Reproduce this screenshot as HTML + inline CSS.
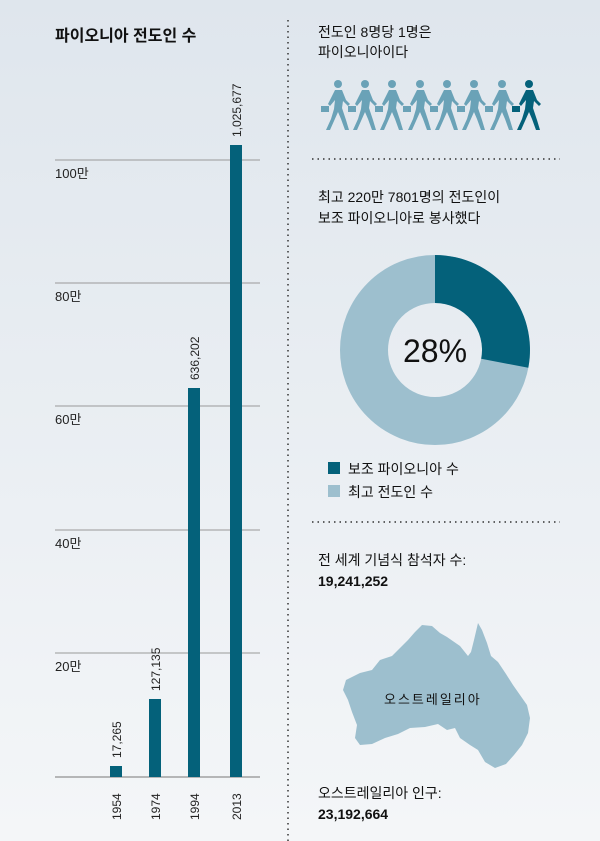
<!DOCTYPE html>
<html><head><meta charset="utf-8"><style>
body{margin:0;width:600px;height:841px;overflow:hidden;background:linear-gradient(#dfe6ed,#f4f6f8);font-family:"Liberation Sans","Noto Sans CJK KR",sans-serif;color:#111}
.t{position:absolute;white-space:nowrap}
</style></head><body>
<svg width="600" height="841" style="position:absolute;left:0;top:0" font-family="Liberation Sans, Noto Sans CJK KR, sans-serif">
<g stroke="#999" stroke-width="1">
<line x1="55" y1="160" x2="260" y2="160"/><line x1="55" y1="283" x2="260" y2="283"/>
<line x1="55" y1="406" x2="260" y2="406"/><line x1="55" y1="530" x2="260" y2="530"/>
<line x1="55" y1="653" x2="260" y2="653"/><line x1="55" y1="777" x2="260" y2="777" stroke="#777"/>
</g>
<g font-size="13" fill="#222">
<text x="55" y="178">100만</text><text x="55" y="301">80만</text><text x="55" y="424">60만</text>
<text x="55" y="548">40만</text><text x="55" y="671">20만</text>
</g>
<g fill="#04617a">
<rect x="110" y="766" width="12" height="11"/><rect x="149" y="699" width="12" height="78"/>
<rect x="188" y="388" width="12" height="389"/><rect x="230" y="145" width="12" height="632"/>
</g>
<g font-size="12" fill="#222">
<text transform="translate(121,758) rotate(-90)">17,265</text>
<text transform="translate(160,691) rotate(-90)">127,135</text>
<text transform="translate(199,380) rotate(-90)">636,202</text>
<text transform="translate(241,137) rotate(-90)">1,025,677</text>
<text transform="translate(121,820) rotate(-90)">1954</text>
<text transform="translate(160,820) rotate(-90)">1974</text>
<text transform="translate(199,820) rotate(-90)">1994</text>
<text transform="translate(241,820) rotate(-90)">2013</text>
</g>
<g stroke="#333" stroke-width="1.5" stroke-dasharray="1.5 4">
<line x1="288" y1="20" x2="288" y2="841"/>
<line x1="312" y1="159" x2="560" y2="159"/>
<line x1="312" y1="522" x2="560" y2="522"/>
</g>
<defs><g id="p"><circle cx="0" cy="-28" r="4"/><path d="M-3,-22 L4,-22 L8,-12 L12,-8 L10,-6 L5,-11 L4,-4 L8,8 L11,18 L7,18 L3,7 L0,0 L-4,9 L-8,18 L-12,18 L-7,7 L-4,-3 L-3,-12 L-8,-6 L-10,-8 Z"/><rect x="-17" y="-6" width="8" height="6"/></g></defs>
<g fill="#6aa2b7">
<use href="#p" x="338" y="112"/><use href="#p" x="365" y="112"/><use href="#p" x="392" y="112"/><use href="#p" x="420" y="112"/><use href="#p" x="447" y="112"/><use href="#p" x="474" y="112"/><use href="#p" x="502" y="112"/>
</g>
<use href="#p" x="529" y="112" fill="#04617a"/>
<circle cx="435" cy="350" r="71" fill="none" stroke="#9dbfce" stroke-width="48"/>
<path d="M435,255 A95,95 0 0 1 528.3,367.8 L481.2,358.8 A47,47 0 0 0 435,303 Z" fill="#04617a"/>
<text x="435" y="362" font-size="32" text-anchor="middle" fill="#111">28%</text>
<rect x="328" y="462" width="12" height="12" fill="#04617a"/>
<rect x="328" y="485" width="12" height="12" fill="#9dbfce"/>
<path fill="#9dbfce" d="M422,625 L432,626 L440,633 L447,637 L460,646 L468,656 L471,652 L474,640 L478,623 L482,630 L487,643 L491,656 L498,662 L506,674 L513,685 L520,695 L527,705 L530,718 L528,733 L522,745 L514,755 L506,764 L495,768 L485,762 L478,750 L470,745 L460,738 L455,728 L447,730 L438,724 L425,727 L410,728 L398,734 L385,738 L372,744 L360,745 L355,738 L357,725 L352,712 L348,700 L343,690 L346,680 L360,673 L372,670 L380,660 L392,656 L400,648 L408,640 L415,632 Z"/>
</svg>
<div class="t" style="left:55px;top:22px;font-size:16px;font-weight:bold">파이오니아 전도인 수</div>
<div class="t" style="left:318px;top:22px;font-size:14px;line-height:20px">전도인 8명당 1명은<br>파이오니아이다</div>
<div class="t" style="left:318px;top:187px;font-size:14px;line-height:21px">최고 220만 7801명의 전도인이<br>보조 파이오니아로 봉사했다</div>
<div class="t" style="left:348px;top:459px;font-size:14px">보조 파이오니아 수</div>
<div class="t" style="left:348px;top:482px;font-size:14px">최고 전도인 수</div>
<div class="t" style="left:318px;top:550px;font-size:14px;line-height:21px">전 세계 기념식 참석자 수:<br><b>19,241,252</b></div>
<div class="t" style="left:384px;top:689px;font-size:13px;letter-spacing:2px">오스트레일리아</div>
<div class="t" style="left:318px;top:783px;font-size:14px;line-height:21px">오스트레일리아 인구:<br><b>23,192,664</b></div>
</body></html>
